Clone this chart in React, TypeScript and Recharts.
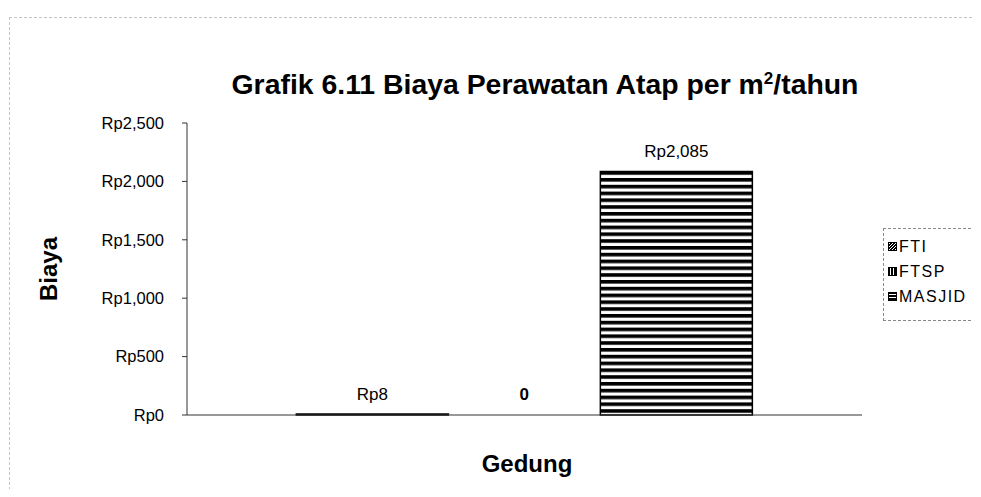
import React from "react";
import {
  BarChart,
  Bar,
  XAxis,
  YAxis,
  Legend,
  LabelList,
} from "recharts";

const categories = ["Gedung"];
const seriesNames = ["FTI", "FTSP", "MASJID"];
const seriesValues = [8, 0, 2085];
const yTicks = [0, 500, 1000, 1500, 2000, 2500];

const patternIds: Record<string, string> = {
  FTI: "pat-fti",
  FTSP: "pat-ftsp",
  MASJID: "pat-masjid",
};

const data = categories.map((name) => {
  const row: Record<string, string | number> = { name };
  seriesNames.forEach((s, i) => {
    row[s] = seriesValues[i];
  });
  return row;
});

const font = "'Liberation Sans', Arial, sans-serif";

const formatRp = (v: number) => `Rp${v.toLocaleString("en-US")}`;
const formatLabel = (v: any) => (Number(v) === 0 ? "0" : formatRp(Number(v)));

// value label above each bar (also drawn for the zero bar)
const BarValueLabel = (props: any) => {
  const { x, y, width, value } = props;
  if (x == null || y == null) return null;
  return (
    <text
      x={Number(x) + Number(width) / 2}
      y={Number(y) - 14}
      textAnchor="middle"
      fontFamily={font}
      fontSize={17}
      fontWeight={Number(value) === 0 ? "bold" : "normal"}
      fill="#000"
    >
      {formatLabel(value)}
    </text>
  );
};

const YLabel = ({ viewBox }: any) => {
  const cx = viewBox.x + 20;
  const cy = viewBox.y + viewBox.height / 2;
  return (
    <text
      x={cx}
      y={cy}
      transform={`rotate(-90, ${cx}, ${cy})`}
      textAnchor="middle"
      dominantBaseline="central"
      fontFamily={font}
      fontWeight="bold"
      fontSize={24}
      fill="#000"
    >
      Biaya
    </text>
  );
};

const Swatch = ({ name }: { name: string }) => (
  <svg width={9} height={9} style={{ display: "block" }}>
    <rect x={0.5} y={0.5} width={8} height={8} fill={`url(#${patternIds[name]}-s)`} stroke="#000" strokeWidth={1} />
  </svg>
);

const LegendBox = () => (
  <div
    style={{
      border: "1px dashed #888",
      padding: "5px 2px 11px 4px",
      fontFamily: font,
      fontSize: 16,
      letterSpacing: 1.5,
      color: "#000",
      background: "#fff",
      boxSizing: "border-box",
      width: 98,
    }}
  >
    {seriesNames.map((s) => (
      <div key={s} style={{ display: "flex", alignItems: "center", height: 25 }}>
        <Swatch name={s} />
        <span style={{ marginLeft: 2 }}>{s}</span>
      </div>
    ))}
  </div>
);

export default function App() {
  return (
    <div style={{ position: "relative", width: 973, height: 481, background: "#fff" }}>
      <div
        style={{
          position: "absolute",
          top: 9,
          left: 1,
          width: 972,
          height: 476,
          borderTop: "1px dashed #c4c4c4",
          borderLeft: "1px dashed #c4c4c4",
          borderBottom: "1px dashed #d0d0d0",
          pointerEvents: "none",
        }}
      />
      <div
        style={{
          position: "absolute",
          top: 60,
          left: 0,
          width: 1074,
          textAlign: "center",
          fontFamily: font,
          fontWeight: "bold",
          fontSize: 28.4,
          color: "#000",
          whiteSpace: "nowrap",
          zIndex: 1,
        }}
      >
        Grafik 6.11 Biaya Perawatan Atap per m<sup style={{ fontSize: 17 }}>2</sup>/tahun
      </div>
      <BarChart
        width={973}
        height={481}
        data={data}
        margin={{ top: 115, right: 119, left: 20, bottom: 14 }}
        barGap={0}
        barCategoryGap="16.2%"
      >
        <defs>
          <pattern id="pat-fti" width={6} height={6} patternUnits="userSpaceOnUse">
            <rect width={6} height={6} fill="#fff" />
            <path d="M0,6 L6,0" stroke="#000" strokeWidth={1.5} />
          </pattern>
          <pattern id="pat-ftsp" width={6} height={6} patternUnits="userSpaceOnUse">
            <rect width={6} height={6} fill="#fff" />
            <rect width={3} height={6} fill="#000" />
          </pattern>
          <pattern id="pat-masjid" width={7} height={6.8} patternUnits="userSpaceOnUse">
            <rect width={7} height={6.8} fill="#fff" />
            <rect width={7} height={3.6} fill="#000" />
          </pattern>
          <pattern id="pat-fti-s" width={3} height={3} patternUnits="userSpaceOnUse">
            <rect width={3} height={3} fill="#000" />
            <path d="M0,3 L3,0" stroke="#fff" strokeWidth={1} />
          </pattern>
          <pattern id="pat-ftsp-s" width={3} height={3} patternUnits="userSpaceOnUse">
            <rect width={3} height={3} fill="#fff" />
            <rect width={2} height={3} fill="#000" />
          </pattern>
          <pattern id="pat-masjid-s" width={3} height={3} patternUnits="userSpaceOnUse">
            <rect width={3} height={3} fill="#fff" />
            <rect width={3} height={2} fill="#000" />
          </pattern>
        </defs>
        <XAxis
          dataKey="name"
          tick={false}
          tickLine={false}
          height={60}
          axisLine={{ stroke: "#333", strokeWidth: 1 }}
          label={{
            value: "Gedung",
            position: "insideBottom",
            offset: 3,
            dx: 2.5,
            style: { fontFamily: font, fontWeight: "bold", fontSize: 24, fill: "#000" },
          }}
        />
        <YAxis
          width={159}
          domain={[0, 2500]}
          ticks={yTicks}
          interval={0}
          tickFormatter={formatRp}
          tickSize={5}
          tickMargin={18}
          tickLine={{ stroke: "#333" }}
          axisLine={{ stroke: "#333", strokeWidth: 1 }}
          tick={{ fontFamily: font, fontSize: 16.5, fill: "#000" }}
          label={<YLabel />}
        />
        <Legend
          layout="vertical"
          verticalAlign="middle"
          align="center"
          wrapperStyle={{ top: 220, left: 875, width: 98 }}
          content={() => <LegendBox />}
        />
        {seriesNames.map((s, i) => {
          const empty = seriesValues[i] === 0;
          return (
            <Bar
              key={s}
              dataKey={s}
              fill={empty ? "none" : `url(#${patternIds[s]})`}
              stroke={empty ? "none" : "#000"}
              strokeWidth={1.5}
              minPointSize={1}
              isAnimationActive={false}
            >
              <LabelList dataKey={s} content={<BarValueLabel />} />
            </Bar>
          );
        })}
      </BarChart>
    </div>
  );
}
